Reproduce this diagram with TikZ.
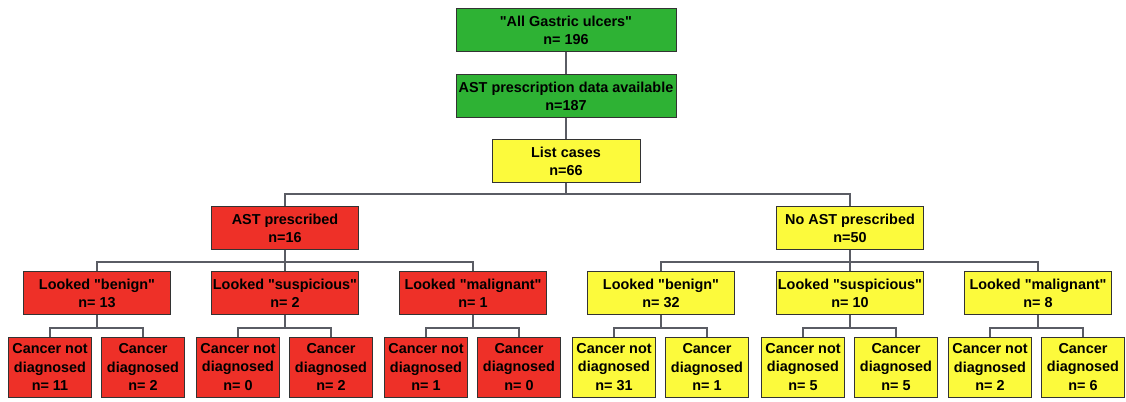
\documentclass[tikz,border=0pt]{standalone}
\usepackage{fontspec}
\setmainfont{Liberation Sans}[Ligatures=TeXOff]
\usepackage{xcolor}
\usepackage{tikz}
\usetikzlibrary{positioning}

\definecolor{boxgreen}{RGB}{46,178,52}
\definecolor{boxred}{RGB}{238,48,40}
\definecolor{boxyellow}{RGB}{252,250,60}
\definecolor{linegray}{RGB}{90,92,100}

\begin{document}
\begin{tikzpicture}[x=0.02cm, y=-0.02cm,
  font=\bfseries\fontsize{8.2}{10.4}\selectfont,
  box/.style={draw=black!80, line width=0.5pt, rectangle, inner sep=0pt, align=center},
  topbox/.style={box, fill=boxgreen, minimum width=4.4cm, minimum height=0.87cm},
  midbox/.style={box, minimum width=2.94cm, minimum height=0.86cm},
  leafbox/.style={box, minimum width=1.66cm, minimum height=1.2cm},
  link/.style={draw=linegray, line width=0.7pt}
]
\useasboundingbox (0,0) rectangle (1126,402);

% Top of the tree
\node[topbox] (all) at (566,30) {"All Gastric ulcers"\\n= 196};
\node[topbox] (avail) at (566,96) {AST prescription data available\\n=187};
\node[midbox, fill=boxyellow, minimum width=2.96cm] (list) at (566,161) {List cases\\n=66};
\draw[link] (all) -- (avail);
\draw[link] (avail) -- (list);

% Second level
\node[midbox, fill=boxred] (astp) at (285,228) {AST prescribed\\n=16};
\node[midbox, fill=boxyellow] (noast) at (850,228) {No AST prescribed\\n=50};
\draw[link] (list.south) -- ++(0,11) -| (astp.north);
\draw[link] (list.south) -- ++(0,11) -| (noast.north);

% Third level, AST prescribed
\node[midbox, fill=boxred] (rbenign) at (97,293) {Looked "benign"\\n= 13};
\node[midbox, fill=boxred] (rsusp) at (285,293) {Looked "suspicious"\\n= 2};
\node[midbox, fill=boxred] (rmalig) at (473,293) {Looked "malignant"\\n= 1};
\draw[link] (astp.south) -- ++(0,12) -| (rbenign.north);
\draw[link] (astp.south) -- (rsusp.north);
\draw[link] (astp.south) -- ++(0,12) -| (rmalig.north);

% Third level, no AST prescribed
\node[midbox, fill=boxyellow] (ybenign) at (661,293) {Looked "benign"\\n= 32};
\node[midbox, fill=boxyellow] (ysusp) at (850,293) {Looked "suspicious"\\n= 10};
\node[midbox, fill=boxyellow] (ymalig) at (1038,293) {Looked "malignant"\\n= 8};
\draw[link] (noast.south) -- ++(0,12) -| (ybenign.north);
\draw[link] (noast.south) -- (ysusp.north);
\draw[link] (noast.south) -- ++(0,12) -| (ymalig.north);

% Leaves, red side
\node[leafbox, fill=boxred] (rbenign_no) at (50,367) {Cancer not\\diagnosed\\n= 11};
\node[leafbox, fill=boxred] (rbenign_yes) at (143,367) {Cancer\\diagnosed\\n= 2};
\node[leafbox, fill=boxred] (rsusp_no) at (238,367) {Cancer not\\diagnosed\\n= 0};
\node[leafbox, fill=boxred] (rsusp_yes) at (331,367) {Cancer\\diagnosed\\n= 2};
\node[leafbox, fill=boxred] (rmalig_no) at (426,367) {Cancer not\\diagnosed\\n= 1};
\node[leafbox, fill=boxred] (rmalig_yes) at (519,367) {Cancer\\diagnosed\\n= 0};
\draw[link] (rbenign.south) -- ++(0,13) -| (rbenign_no.north);
\draw[link] (rbenign.south) -- ++(0,13) -| (rbenign_yes.north);
\draw[link] (rsusp.south) -- ++(0,13) -| (rsusp_no.north);
\draw[link] (rsusp.south) -- ++(0,13) -| (rsusp_yes.north);
\draw[link] (rmalig.south) -- ++(0,13) -| (rmalig_no.north);
\draw[link] (rmalig.south) -- ++(0,13) -| (rmalig_yes.north);

% Leaves, yellow side
\node[leafbox, fill=boxyellow] (ybenign_no) at (614,367) {Cancer not\\diagnosed\\n= 31};
\node[leafbox, fill=boxyellow] (ybenign_yes) at (707,367) {Cancer\\diagnosed\\n= 1};
\node[leafbox, fill=boxyellow] (ysusp_no) at (803,367) {Cancer not\\diagnosed\\n= 5};
\node[leafbox, fill=boxyellow] (ysusp_yes) at (896,367) {Cancer\\diagnosed\\n= 5};
\node[leafbox, fill=boxyellow] (ymalig_no) at (990,367) {Cancer not\\diagnosed\\n= 2};
\node[leafbox, fill=boxyellow] (ymalig_yes) at (1083,367) {Cancer\\diagnosed\\n= 6};
\draw[link] (ybenign.south) -- ++(0,13) -| (ybenign_no.north);
\draw[link] (ybenign.south) -- ++(0,13) -| (ybenign_yes.north);
\draw[link] (ysusp.south) -- ++(0,13) -| (ysusp_no.north);
\draw[link] (ysusp.south) -- ++(0,13) -| (ysusp_yes.north);
\draw[link] (ymalig.south) -- ++(0,13) -| (ymalig_no.north);
\draw[link] (ymalig.south) -- ++(0,13) -| (ymalig_yes.north);

\end{tikzpicture}
\end{document}
